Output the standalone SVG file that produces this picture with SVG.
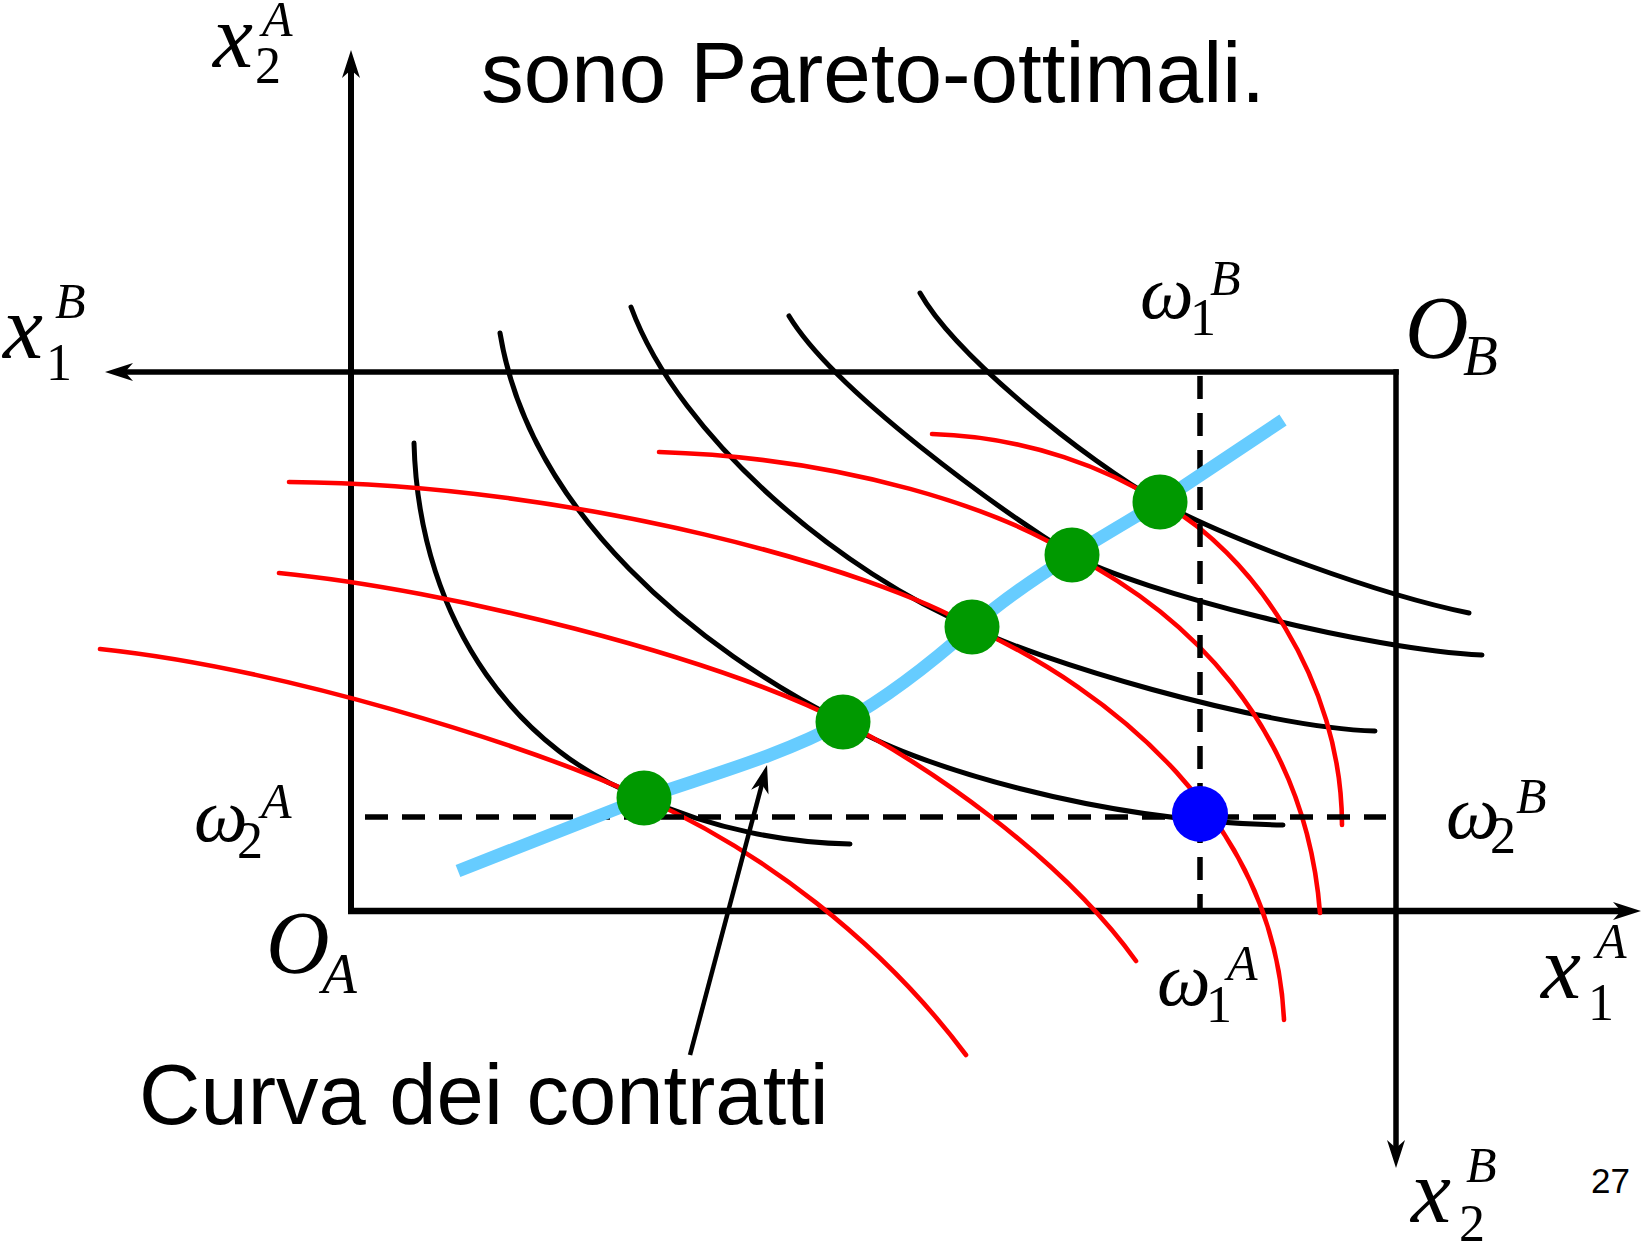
<svg xmlns="http://www.w3.org/2000/svg" width="1642" height="1246" viewBox="0 0 1642 1246">
<style>
.ax{stroke:#000;fill:none}
.ic{fill:none;stroke-linecap:round}
.ia{stroke:#000;stroke-width:5}
.ib{stroke:#FF0000;stroke-width:4.6}
.dash{stroke:#000;stroke-width:5.5;stroke-dasharray:23 14;fill:none}
.cc{fill:none;stroke:#66CCFF;stroke-width:13}
.g{fill:#009900}
.sans{font-family:"Liberation Sans",Arial,sans-serif;fill:#000}
.m{font-family:"Liberation Serif","Times New Roman",serif;font-style:italic;fill:#000}
.d{font-family:"Liberation Serif","Times New Roman",serif;fill:#000}
</style>
<defs>
<marker id="ah" markerUnits="userSpaceOnUse" viewBox="-30 -15 32 30" markerWidth="32" markerHeight="30" refX="-18" refY="0" orient="auto">
<path d="M0,0 L-28,-9 L-20,0 L-28,9 Z" fill="#000"/>
</marker>
</defs>
<rect width="1642" height="1246" fill="#fff"/>

<g id="axes">
<line class="ax" x1="351" y1="914" x2="351" y2="68" stroke-width="6" marker-end="url(#ah)"/>
<line class="ax" x1="348" y1="911" x2="1623" y2="911" stroke-width="6.5" marker-end="url(#ah)"/>
<line class="ax" x1="1398.7" y1="372" x2="123" y2="372" stroke-width="5.5" marker-end="url(#ah)"/>
<line class="ax" x1="1396" y1="369.3" x2="1396" y2="1150" stroke-width="5.5" marker-end="url(#ah)"/>
</g>

<g id="indifference-A">
<path class="ic ia" d="M414,443 C419,630 525,755 644,798 C714,830 790,843 850,844"/>
<path class="ic ia" d="M500,333 C530,515 700,650 843,722 C910,765 1100,822 1283,825"/>
<path class="ic ia" d="M631,307 C680,440 845,575 972,627 C1030,658 1260,728 1375,731"/>
<path class="ic ia" d="M789,316 C835,392 1000,510 1072,555 C1140,592 1370,650 1482,655"/>
<path class="ic ia" d="M920,293 C955,355 1085,460 1160,502 C1230,540 1380,595 1469,613"/>
</g>

<g id="indifference-B">
<path class="ic ib" d="M100,649 C280,668 520,742 644,798 C760,850 880,940 966,1055"/>
<path class="ic ib" d="M279,573 C450,590 710,655 843,722 C920,760 1060,855 1136,961"/>
<path class="ic ib" d="M289,482 C580,484 880,572 972,627 C1110,690 1275,820 1284,1020"/>
<path class="ic ib" d="M659,452 C850,458 1000,510 1072,555 C1180,610 1305,720 1320,913"/>
<path class="ic ib" d="M932,434 C1030,437 1110,470 1160,502 C1250,550 1342,680 1342,825"/>
</g>

<g id="endowment-lines">
<line class="dash" x1="1200" y1="376" x2="1200" y2="909"/>
<line class="dash" x1="365" y1="817" x2="1386" y2="817"/>
</g>

<g id="contract-curve">
<path class="cc" d="M458,871 L644,798 C710,775 783,755 843,722 C886,698 929,665 972,627 C1005,598 1039,575.5 1072,555 C1101,537 1131,519.5 1160,502 L1283,420"/>
</g>

<g id="dot-1"><circle class="g" cx="644" cy="798" r="27.5"/></g>
<g id="dot-2"><circle class="g" cx="843" cy="722" r="27.5"/></g>
<g id="dot-3"><circle class="g" cx="972" cy="627" r="27.5"/></g>
<g id="dot-4"><circle class="g" cx="1072" cy="555" r="27.5"/></g>
<g id="dot-5"><circle class="g" cx="1160" cy="502" r="27.5"/></g>
<g id="endowment"><circle cx="1200" cy="814" r="28" fill="#0000FF"/></g>

<g id="connectors">
<line x1="690" y1="1055" x2="762.4" y2="782.4" stroke="#000" stroke-width="4.5" marker-end="url(#ah)"/>
</g>

<g id="title"><text class="sans" x="481" y="102" font-size="85.5">sono Pareto-ottimali.</text></g>
<g id="label-curva"><text class="sans" x="139" y="1124" font-size="85">Curva dei contratti</text></g>
<g id="page-number"><text class="sans" x="1591" y="1193" font-size="35">27</text></g>

<g id="label-x2A">
<text class="m" x="213" y="67" font-size="90">x</text>
<text class="d" x="255" y="83" font-size="52">2</text>
<text class="m" x="262" y="36" font-size="50">A</text>
</g>
<g id="label-x1B">
<text class="m" x="3" y="358" font-size="90">x</text>
<text class="d" x="46" y="380" font-size="52">1</text>
<text class="m" x="55" y="318" font-size="50">B</text>
</g>
<g id="label-OB">
<text class="m" x="1405" y="357" font-size="88">O</text>
<text class="m" x="1463" y="375" font-size="57">B</text>
</g>
<g id="label-w1B">
<text class="m" x="1140" y="318" font-size="76">ω</text>
<text class="d" x="1190" y="335" font-size="52">1</text>
<text class="m" x="1210" y="295" font-size="50">B</text>
</g>
<g id="label-w2A">
<text class="m" x="194" y="841" font-size="76">ω</text>
<text class="d" x="237" y="858" font-size="52">2</text>
<text class="m" x="261" y="818" font-size="50">A</text>
</g>
<g id="label-w2B">
<text class="m" x="1446" y="838" font-size="76">ω</text>
<text class="d" x="1490" y="853" font-size="52">2</text>
<text class="m" x="1516" y="813" font-size="50">B</text>
</g>
<g id="label-OA">
<text class="m" x="266" y="972" font-size="88">O</text>
<text class="m" x="322" y="993" font-size="57">A</text>
</g>
<g id="label-w1A">
<text class="m" x="1157" y="1005" font-size="76">ω</text>
<text class="d" x="1206" y="1022" font-size="52">1</text>
<text class="m" x="1227" y="980" font-size="50">A</text>
</g>
<g id="label-x1A">
<text class="m" x="1541" y="998" font-size="90">x</text>
<text class="d" x="1588" y="1020" font-size="52">1</text>
<text class="m" x="1596" y="958" font-size="50">A</text>
</g>
<g id="label-x2B">
<text class="m" x="1411" y="1222" font-size="90">x</text>
<text class="d" x="1459" y="1241" font-size="52">2</text>
<text class="m" x="1466" y="1182" font-size="50">B</text>
</g>
</svg>
